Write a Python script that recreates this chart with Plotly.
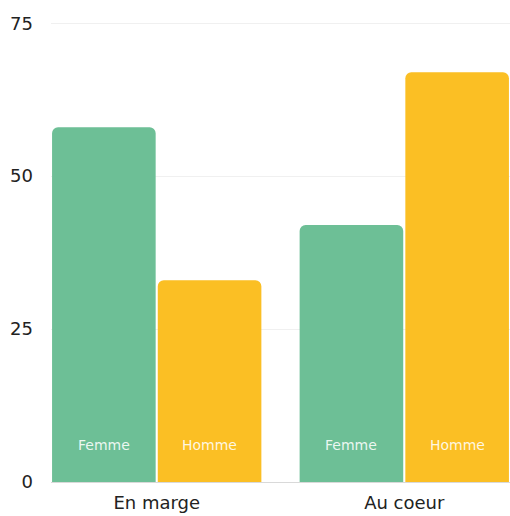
import plotly.graph_objects as go

categories = ["En marge", "Au coeur"]
series_names = ["Femme", "Homme"]
femme_values = [58, 42]
homme_values = [33, 67]
y_ticks = [0, 25, 50, 75]

green = "#6DBF96"
yellow = "#FBBF24"
bargap = 0.146
FONT = "DejaVu Sans, Verdana, sans-serif"

fig = go.Figure()
for name, vals, col in [("Femme", femme_values, green), ("Homme", homme_values, yellow)]:
    fig.add_trace(go.Bar(
        x=categories, y=vals, name=name,
        marker=dict(color=col, line=dict(width=0), cornerradius=6),
        hoverinfo="skip",
    ))

# in-bar labels near the base
half = (1 - bargap) / 4
for i, cat in enumerate(categories):
    for j, name in enumerate(series_names):
        fig.add_annotation(
            x=i + (-half if j == 0 else half), y=6.0, xref="x", yref="y",
            text=name, showarrow=False,
            font=dict(family=FONT, size=14, color="rgba(255,255,255,0.88)"),
        )

edge = (1 - bargap) / 2
fig.update_layout(
    width=510, height=516,
    margin=dict(l=51, r=0, t=22, b=34),
    paper_bgcolor="white", plot_bgcolor="white",
    barmode="group", bargap=bargap, bargroupgap=0.02,
    showlegend=False,
    font=dict(family=FONT, size=18, color="#222"),
    xaxis=dict(range=[-edge, 1 + edge], showgrid=False, ticks="",
               showline=False, zeroline=False, fixedrange=True,
               automargin=False, ticklabelstandoff=8,
               tickfont=dict(family=FONT, size=18, color="#222")),
    yaxis=dict(range=[0, 75.2], tickvals=y_ticks, showgrid=True,
               gridcolor="#f0f0f0", gridwidth=1, zeroline=True,
               zerolinecolor="#d9d9d9", zerolinewidth=1,
               automargin=False, ticks="", ticklabelstandoff=17,
               tickfont=dict(family=FONT, size=18, color="#222")),
)

fig.write_html(
    "out.html",
    config={"displayModeBar": False},
    post_script="document.body.style.margin='0';document.body.style.overflow='hidden';",
)
